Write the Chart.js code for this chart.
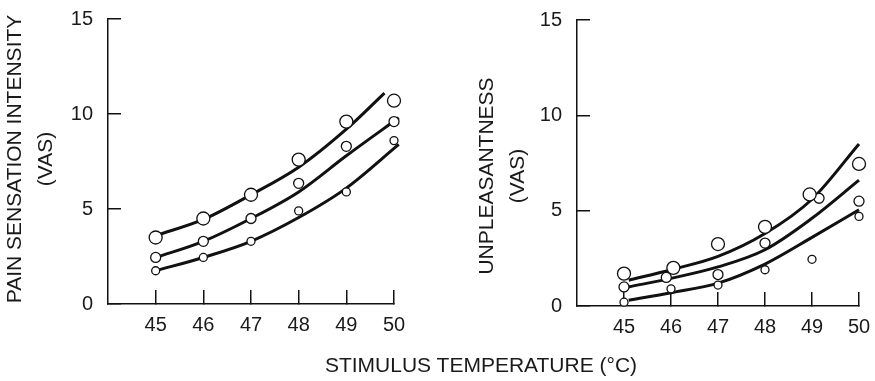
<!DOCTYPE html>
<html>
<head>
<meta charset="utf-8">
<script src="https://cdn.jsdelivr.net/npm/chart.js@4"></script>
<style>
  body { margin: 0; background: #fff; overflow: hidden; }
  #wrap { position: relative; width: 875px; height: 381px; }
  canvas { position: absolute; top: 0; }
  #xtitle { position: absolute; left: 281px; width: 400px; top: 353px; text-align: center;
            font: 21px "Liberation Sans", Arial, sans-serif; line-height: 24px; color: #1a1a1a; }
</style>
</head>
<body>
<div id="wrap">
  <canvas id="pain" width="437" height="381" style="left:0"></canvas>
  <canvas id="unpl" width="438" height="381" style="left:437px"></canvas>
  <div id="xtitle">STIMULUS TEMPERATURE (°C)</div>
</div>
<script>
  // tick values
  const xTicks = [45, 46, 47, 48, 49, 50];
  const yTicks = [0, 5, 10, 15];

  // pain sensation intensity: measured points (large, medium, small circles)
  const painLarge = [3.5, 4.5, 5.75, 7.6, 9.6, 10.7];
  const painMed = [2.45, 3.3, 4.5, 6.35, 8.3, 9.6];
  const painSmall = [1.75, 2.45, 3.3, 4.9, 5.9, 8.6];
  // fitted curves
  const painTopX = [45, 46, 47, 48, 49, 49.8];
  const painTopY = [3.6, 4.45, 5.75, 7.2, 9.2, 11.1];
  const painMidX = [45, 46, 47, 48, 49, 50.1];
  const painMidY = [2.45, 3.3, 4.5, 5.9, 7.8, 9.8];
  const painLowX = [45, 46, 47, 48, 49, 50.1];
  const painLowY = [1.75, 2.45, 3.3, 4.55, 6.1, 8.4];

  // unpleasantness: measured points
  const unplLargeX = [45, 46.05, 47, 48, 48.95, 50];
  const unplLarge = [1.7, 2.0, 3.25, 4.15, 5.85, 7.45];
  const unplMedX = [45, 45.9, 47, 48, 49.15, 50];
  const unplMed = [1.0, 1.5, 1.65, 3.3, 5.65, 5.5];
  const unplSmall = [0.2, 0.9, 1.1, 1.9, 2.45, 4.7];
  // fitted curves
  const unplCurveX = [45.1, 46, 47, 48, 49, 50];
  const unplTopY = [1.35, 1.9, 2.6, 3.8, 5.6, 8.5];
  const unplMidY = [1.0, 1.45, 2.05, 2.95, 4.6, 6.6];
  const unplLowY = [0.3, 0.7, 1.2, 2.2, 3.6, 5.05];

  const ink = '#111';
  const family = '"Liberation Sans", Arial, sans-serif';

  const pts = (xs, ys) => xs.map((x, i) => ({ x: x, y: ys[i] }));

  function dots(data, r) {
    return {
      data: data, showLine: false, order: 0, clip: false,
      pointRadius: r, pointBackgroundColor: '#fff',
      pointBorderColor: ink, pointBorderWidth: 1.3
    };
  }
  function curve(data) {
    return {
      data: data, showLine: true, order: 1, clip: false,
      pointRadius: 0, borderColor: ink, borderWidth: 3,
      cubicInterpolationMode: 'monotone'
    };
  }

  // no extra room for tick labels, the axes sit where the layout padding puts them
  function noPad(s) {
    s.paddingTop = 0; s.paddingBottom = 0; s.paddingLeft = 0; s.paddingRight = 0;
  }

  const sideTitle = {
    id: 'sideTitle',
    afterDraw(chart, args, opts) {
      const ctx = chart.ctx;
      ctx.save();
      ctx.fillStyle = '#1a1a1a';
      ctx.font = '21px ' + family;
      ctx.textAlign = 'center';
      ctx.textBaseline = 'middle';
      opts.lines.forEach((t, i) => {
        ctx.save();
        ctx.translate(opts.x[i], opts.y);
        ctx.rotate(-Math.PI / 2);
        ctx.fillText(t, 0, 0);
        ctx.restore();
      });
      ctx.restore();
    }
  };

  function makeChart(id, datasets, yWidth, xHeight, pad, title) {
    return new Chart(document.getElementById(id), {
      type: 'scatter',
      data: { datasets: datasets },
      plugins: [sideTitle],
      options: {
        responsive: false,
        animation: false,
        layout: { padding: pad, autoPadding: false },
        plugins: {
          legend: { display: false },
          tooltip: { enabled: false },
          sideTitle: title
        },
        scales: {
          x: {
            type: 'linear', min: 44, max: 50,
            afterBuildTicks: s => { s.ticks = xTicks.map(v => ({ value: v })); },
            afterFit: s => { s.height = xHeight; noPad(s); },
            border: { color: ink, width: 1.5 },
            grid: { drawOnChartArea: false, tickLength: -14, color: ink, lineWidth: 1.5 },
            ticks: { autoSkip: false, maxRotation: 0, padding: 23, color: '#1a1a1a', font: { size: 20, family: family } }
          },
          y: {
            min: 0, max: 15,
            afterBuildTicks: s => { s.ticks = yTicks.map(v => ({ value: v })); },
            afterFit: s => { s.width = yWidth; noPad(s); },
            border: { color: ink, width: 1.5 },
            grid: { drawOnChartArea: false, tickLength: -13, color: ink, lineWidth: 1.5 },
            ticks: { padding: 28, color: '#1a1a1a', font: { size: 20, family: family } }
          }
        }
      }
    });
  }

  makeChart('pain', [
    dots(pts(xTicks, painLarge), 6.5),
    dots(pts(xTicks, painMed), 5),
    dots(pts(xTicks, painSmall), 4),
    curve(pts(painTopX, painTopY)),
    curve(pts(painMidX, painMidY)),
    curve(pts(painLowX, painLowY))
  ], 108, 77, { top: 19, right: 43, left: 0, bottom: 0 },
  { lines: ['PAIN SENSATION INTENSITY', '(VAS)'], x: [15, 46], y: 159 });

  makeChart('unpl', [
    dots(pts(unplLargeX, unplLarge), 6.5),
    dots(pts(unplMedX, unplMed), 5),
    dots(pts(xTicks, unplSmall), 4),
    curve(pts(unplCurveX, unplTopY)),
    curve(pts(unplCurveX, unplMidY)),
    curve(pts(unplCurveX, unplLowY))
  ], 140, 75, { top: 20, right: 16, left: 0, bottom: 0 },
  { lines: ['UNPLEASANTNESS', '(VAS)'], x: [50, 81], y: 176 });
</script>
</body>
</html>
